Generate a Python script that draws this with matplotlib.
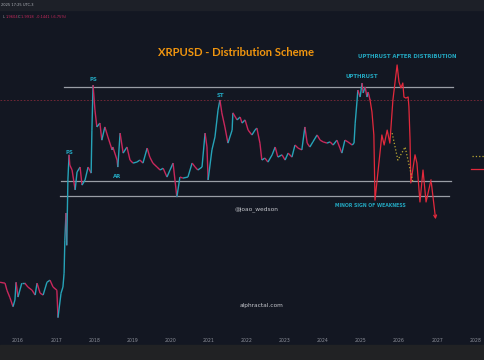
import matplotlib
matplotlib.use("Agg")
import matplotlib.pyplot as plt
import numpy as np
from matplotlib.collections import LineCollection
from matplotlib.patches import Rectangle

# XRPUSD weekly-ish trace (decimal year, price in USD)
hist_dates = [
    2015.53, 2015.66, 2015.71, 2015.79, 2015.87, 2015.92, 2015.95, 2016.00,
    2016.10, 2016.18, 2016.26, 2016.37, 2016.45, 2016.50, 2016.58, 2016.66,
    2016.76, 2016.84, 2016.92, 2017.02, 2017.05, 2017.13, 2017.18, 2017.21,
    2017.23, 2017.26, 2017.28, 2017.31, 2017.34, 2017.36, 2017.42, 2017.50,
    2017.55, 2017.63, 2017.68, 2017.76, 2017.84, 2017.92, 2017.94, 2017.97,
    2018.00, 2018.02, 2018.07, 2018.15, 2018.20, 2018.28, 2018.36, 2018.47,
    2018.49, 2018.60, 2018.62, 2018.68, 2018.76, 2018.86, 2018.94, 2019.02,
    2019.12, 2019.20, 2019.28, 2019.39, 2019.46, 2019.54, 2019.65, 2019.73,
    2019.81, 2019.91, 2019.99, 2020.07, 2020.17, 2020.25, 2020.33, 2020.46,
    2020.57, 2020.65, 2020.72, 2020.83, 2020.91, 2020.96, 2020.99, 2021.09,
    2021.17, 2021.25, 2021.30, 2021.35, 2021.43, 2021.51, 2021.62, 2021.64,
    2021.75, 2021.83, 2021.88, 2021.96, 2022.04, 2022.14, 2022.22, 2022.27,
    2022.35, 2022.40, 2022.48, 2022.56, 2022.67, 2022.75, 2022.82, 2022.93,
    2023.01, 2023.09, 2023.19, 2023.27, 2023.35, 2023.45, 2023.53, 2023.59,
    2023.66, 2023.74, 2023.85, 2023.93, 2024.01, 2024.11, 2024.19, 2024.27,
    2024.37, 2024.45, 2024.50, 2024.58, 2024.66, 2024.77, 2024.82, 2024.85,
    2024.90, 2024.92, 2024.98, 2025.03, 2025.06, 2025.11, 2025.16, 2025.19,
    2025.24,
]
hist_prices = [
    0.0074, 0.0072, 0.0058, 0.0046, 0.0035, 0.0043, 0.0074, 0.0047,
    0.0072, 0.0072, 0.0064, 0.0058, 0.0050, 0.0072, 0.0053, 0.0050,
    0.0074, 0.0079, 0.0064, 0.0058, 0.0025, 0.0053, 0.0064, 0.0098,
    0.027, 0.062, 0.023, 0.171, 0.37, 0.27, 0.232, 0.126,
    0.218, 0.254, 0.146, 0.171, 0.254, 0.211, 0.79, 3.15,
    1.99, 1.46, 0.87, 0.98, 0.58, 0.87, 0.64, 0.43,
    0.47, 0.315, 0.254, 0.72, 0.39, 0.47, 0.315, 0.287,
    0.296, 0.315, 0.287, 0.455, 0.345, 0.287, 0.254, 0.232,
    0.245, 0.187, 0.232, 0.287, 0.101, 0.187, 0.181, 0.187,
    0.287, 0.254, 0.232, 0.254, 0.72, 0.47, 0.171, 0.43,
    0.64, 1.46, 1.99, 1.34, 0.87, 0.53, 0.79, 1.34,
    1.08, 1.18, 0.98, 1.08, 0.79, 0.68, 0.79, 0.84,
    0.53, 0.315, 0.335, 0.296, 0.37, 0.47, 0.345, 0.37,
    0.315, 0.39, 0.345, 0.50, 0.455, 0.43, 0.87, 0.53,
    0.47, 0.55, 0.68, 0.58, 0.55, 0.53, 0.55, 0.50,
    0.58, 0.455, 0.39, 0.58, 0.55, 0.50, 0.53, 0.98,
    1.99, 2.70, 2.18, 3.35, 2.47, 2.97, 2.18, 2.54,
    1.99,
]

# hand-drawn projection (red) and alternative path (yellow dots)
proj_dates = [2025.24, 2025.29, 2025.34, 2025.37, 2025.55, 2025.61, 2025.69,
              2025.76, 2025.84, 2025.95, 2026.00, 2026.05, 2026.10, 2026.13,
              2026.18, 2026.24, 2026.26, 2026.29, 2026.31, 2026.42, 2026.47,
              2026.55, 2026.63, 2026.71, 2026.84, 2026.97]
proj_prices = [1.99, 1.38, 0.68, 0.092, 0.68, 0.50, 0.79,
               0.53, 1.99, 5.83, 3.46, 2.88, 3.35, 2.18,
               2.11, 2.18, 1.61, 0.58, 0.156, 0.37, 0.287,
               0.087, 0.232, 0.087, 0.171, 0.047]
alt_dates = [2025.82, 2025.97, 2026.16, 2026.37]
alt_prices = [0.72, 0.315, 0.47, 0.156]

# range levels: (price, start, end)
level_prices = [2.97, 0.166, 0.104]
level_starts = [2017.21, 2017.13, 2017.10]
level_ends = [2027.42, 2027.36, 2027.31]
last_price = 1.99

# Wyckoff labels
label_texts = ["PS", "PS", "AR", "ST", "UPTHRUST",
               "UPTHRUST AFTER DISTRIBUTION", "MINOR SIGN OF WEAKNESS"]
label_dates = [2017.36, 2017.97, 2018.60, 2021.30, 2025.03, 2026.21, 2025.24]
label_prices = [0.40, 3.68, 0.193, 2.25, 4.03, 7.45, 0.077]
label_sizes = [3.9, 3.9, 3.9, 3.9, 3.9, 3.9, 3.3]

years = list(range(2016, 2029))

BG = "#131722"
UP = "#26a3b8"
DOWN = "#c8285c"
PROJ = "#e2293c"
TEAL = "#23a6bf"

fig = plt.figure(figsize=(4.85, 3.6), dpi=100)
fig.patch.set_facecolor(BG)
fig.patches.append(Rectangle((0, 1 - 10 / 360), 1, 10 / 360,
                             transform=fig.transFigure, color="#1d2028",
                             zorder=0))
fig.patches.append(Rectangle((0, 0), 1, 15 / 360, transform=fig.transFigure,
                             color="#212224", zorder=0))

ax = fig.add_axes([0, 27 / 360, 1, 323 / 360])
ax.set_facecolor(BG)
ax.set_yscale("log")
ax.set_xlim(2015.528, 2028.257)
ax.set_ylim(0.00156, 31.5)
for s in ax.spines.values():
    s.set_visible(False)
ax.set_yticks([])
ax.minorticks_off()
ax.set_xticks(years)
ax.set_xticklabels([str(y) for y in years])
ax.tick_params(axis="x", length=0, pad=3.5, labelsize=3.3, labelcolor="#8d909a")

# current price line
ax.axhline(last_price, color="#7d2a38", lw=0.6, ls=(0, (2, 2)), zorder=1)

# horizontal range lines
for p, a, b in zip(level_prices, level_starts, level_ends):
    ax.plot([a, b], [p, p], color="#9a9ea6", lw=0.9, zorder=2)

# price trace coloured by direction
segs = [[(hist_dates[i], hist_prices[i]), (hist_dates[i + 1], hist_prices[i + 1])]
        for i in range(len(hist_dates) - 1)]
cols = [UP if hist_prices[i + 1] >= hist_prices[i] else DOWN
        for i in range(len(hist_dates) - 1)]
ax.add_collection(LineCollection(segs, colors=cols, lw=1.0, zorder=3))

# projection
ax.plot(proj_dates[:-1], proj_prices[:-1], color=PROJ, lw=0.9, zorder=4)
ax.annotate("", xy=(proj_dates[-1], proj_prices[-1]),
            xytext=(proj_dates[-2], proj_prices[-2]),
            arrowprops=dict(arrowstyle="->", color=PROJ, lw=0.9,
                            mutation_scale=5), zorder=4)
ax.plot(alt_dates, alt_prices, color="#b9a733", lw=0.9, ls=":", zorder=4)

# little price-scale markers at the right edge
ax.plot([2027.92, 2028.26], [0.357, 0.357], color="#b9a733", lw=0.9, ls=":")
ax.plot([2027.88, 2028.26], [0.239, 0.239], color=PROJ, lw=0.9)

for t, d, p, fs in zip(label_texts, label_dates, label_prices, label_sizes):
    ax.text(d, p, t, color=TEAL, fontsize=fs, fontweight="bold",
            ha="center", va="center", zorder=5)

fig.text(236 / 485, 1 - 53 / 360, "XRPUSD - Distribution Scheme",
         color="#f0950f", fontsize=8.1, fontweight="bold", family="Lato",
         ha="center", va="center")
fig.text(257 / 485, 1 - 209 / 360, "@joao_wedson", color="#c4c6cc",
         fontsize=4.2, ha="center", va="center")
fig.text(262 / 485, 1 - 306 / 360, "alphractal.com", color="#c4c6cc",
         fontsize=4.2, ha="center", va="center")
fig.text(1 / 485, 1 - 5 / 360, "2025 17:25 UTC-3", color="#b0b3ba",
         fontsize=2.6, ha="left", va="center")
fig.text(3 / 485, 1 - 17 / 360, "L", color="#9a9da5", fontsize=2.6,
         ha="left", va="center")
fig.text(6 / 485, 1 - 17 / 360, "1.9604", color="#c8285c", fontsize=2.6,
         ha="left", va="center")
fig.text(18 / 485, 1 - 17 / 360, "C", color="#9a9da5", fontsize=2.6,
         ha="left", va="center")
fig.text(21 / 485, 1 - 17 / 360, "1.9918  -0.1441 (-6.75%)", color="#c8285c",
         fontsize=2.6, ha="left", va="center")

fig.savefig("out.png", dpi=100, facecolor=fig.get_facecolor())
